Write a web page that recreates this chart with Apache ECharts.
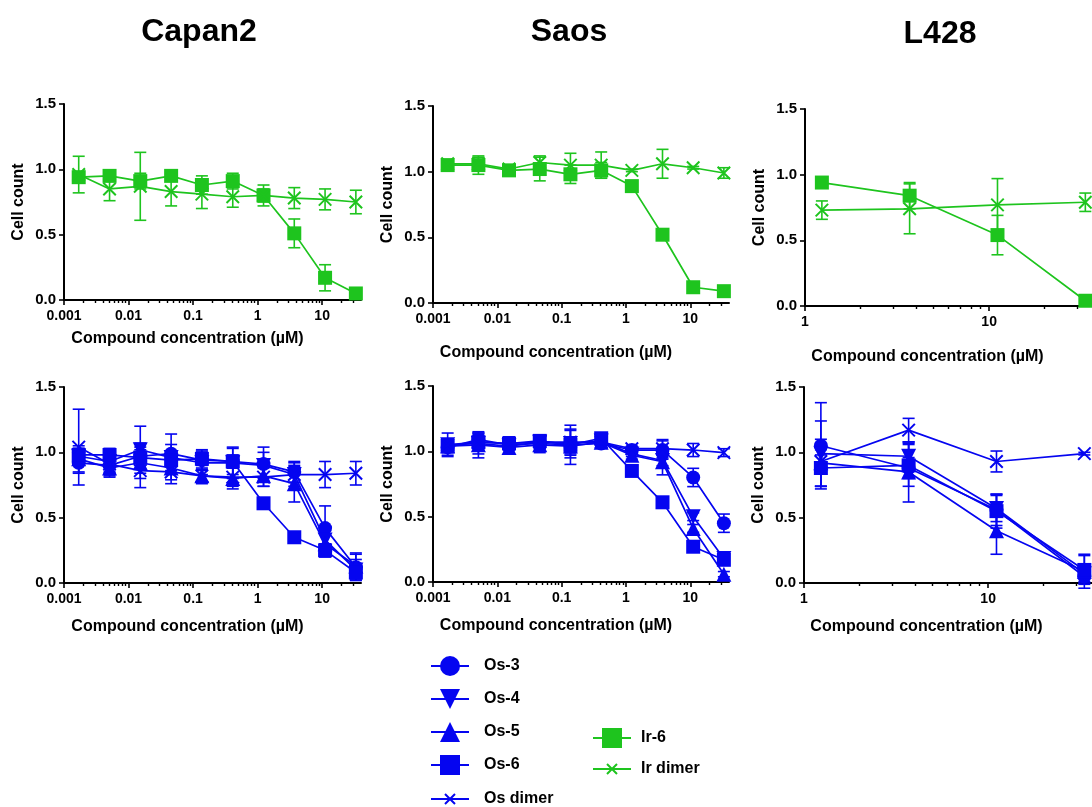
<!DOCTYPE html>
<html>
<head>
<meta charset="utf-8">
<script src="https://cdn.jsdelivr.net/npm/echarts@6/dist/echarts.min.js"></script>
<style>
    html, body { margin: 0; padding: 0; background: #fff; }
    #chart { width: 1092px; height: 807px; }
</style>
</head>
<body>
<div id="chart"></div>
<script>
// concentrations (uM), 3-fold dilution series
const conc = [0.00169, 0.00508, 0.0152, 0.0457, 0.137, 0.412, 1.235, 3.70, 11.1, 33.3];
const concL428 = [1.235, 3.70, 11.1, 33.3];

// tick labels
const wideTicks = [0.001, 0.01, 0.1, 1, 10];
const l428Ticks = [1, 10];
const minorSteps = [2, 3, 4, 5, 6, 7, 8, 9];
const yTicks = [0, 0.5, 1.0, 1.5];

// Capan2, Ir compounds
const capanIr6 = [0.94, 0.95, 0.91, 0.95, 0.88, 0.91, 0.80, 0.51, 0.17, 0.05];
const capanIr6Sd = [0.04, 0.03, 0.06, 0.03, 0.07, 0.06, 0.05, 0.11, 0.10, 0.02];
const capanIrDimer = [0.96, 0.85, 0.87, 0.83, 0.81, 0.79, 0.80, 0.78, 0.77, 0.75];
const capanIrDimerSd = [0.14, 0.09, 0.26, 0.11, 0.11, 0.08, 0.08, 0.08, 0.08, 0.09];

// Saos, Ir compounds
const saosIr6 = [1.05, 1.05, 1.01, 1.02, 0.98, 1.01, 0.89, 0.52, 0.12, 0.09];
const saosIr6Sd = [0.02, 0.07, 0.02, 0.09, 0.07, 0.06, 0.01, 0.01, 0.01, 0.01];
const saosIrDimer = [1.06, 1.06, 1.02, 1.07, 1.05, 1.05, 1.01, 1.06, 1.03, 0.99];
const saosIrDimerSd = [0.02, 0.05, 0.03, 0.05, 0.09, 0.10, 0.01, 0.11, 0.01, 0.04];

// L428, Ir compounds
const l428Ir6 = [0.94, 0.84, 0.54, 0.04];
const l428Ir6Sd = [0.01, 0.10, 0.15, 0.02];
const l428IrDimer = [0.73, 0.74, 0.77, 0.79];
const l428IrDimerSd = [0.07, 0.19, 0.20, 0.07];

// Capan2, Os compounds
const capanOs3 = [0.92, 0.90, 0.97, 0.99, 0.94, 0.93, 0.91, 0.85, 0.42, 0.12];
const capanOs3Sd = [0.08, 0.06, 0.10, 0.15, 0.08, 0.10, 0.13, 0.08, 0.17, 0.10];
const capanOs4 = [0.97, 0.93, 1.02, 0.96, 0.92, 0.92, 0.90, 0.83, 0.33, 0.10];
const capanOs4Sd = [0.06, 0.08, 0.18, 0.10, 0.09, 0.12, 0.10, 0.06, 0.10, 0.08];
const capanOs5 = [0.95, 0.88, 0.92, 0.88, 0.82, 0.80, 0.82, 0.76, 0.30, 0.13];
const capanOs5Sd = [0.10, 0.07, 0.12, 0.09, 0.05, 0.08, 0.08, 0.14, 0.10, 0.10];
const capanOs6 = [0.98, 0.98, 0.96, 0.94, 0.95, 0.93, 0.61, 0.35, 0.25, 0.08];
const capanOs6Sd = [0.05, 0.05, 0.06, 0.04, 0.05, 0.05, 0.02, 0.02, 0.05, 0.04];
const capanOsDimer = [1.04, 0.91, 0.86, 0.85, 0.82, 0.81, 0.81, 0.83, 0.83, 0.84];
const capanOsDimerSd = [0.29, 0.09, 0.13, 0.09, 0.06, 0.07, 0.07, 0.09, 0.10, 0.09];

// Saos, Os compounds
const saosOs3 = [1.03, 1.09, 1.05, 1.06, 1.05, 1.06, 1.01, 1.01, 0.80, 0.45];
const saosOs3Sd = [0.06, 0.05, 0.06, 0.04, 0.15, 0.03, 0.02, 0.07, 0.07, 0.07];
const saosOs4 = [1.05, 1.06, 1.04, 1.07, 1.06, 1.08, 0.98, 0.93, 0.50, 0.18];
const saosOs4Sd = [0.09, 0.08, 0.05, 0.03, 0.11, 0.03, 0.02, 0.04, 0.03, 0.02];
const saosOs5 = [1.04, 1.05, 1.03, 1.05, 1.04, 1.07, 0.97, 0.92, 0.41, 0.06];
const saosOs5Sd = [0.05, 0.10, 0.04, 0.06, 0.07, 0.04, 0.03, 0.10, 0.03, 0.02];
const saosOs6 = [1.04, 1.07, 1.06, 1.08, 1.05, 1.10, 0.85, 0.61, 0.27, 0.17];
const saosOs6Sd = [0.04, 0.04, 0.05, 0.04, 0.04, 0.03, 0.02, 0.01, 0.01, 0.02];
const saosOsDimer = [1.05, 1.07, 1.06, 1.07, 1.07, 1.07, 1.02, 1.02, 1.01, 0.99];
const saosOsDimerSd = [0.04, 0.06, 0.04, 0.03, 0.09, 0.03, 0.02, 0.07, 0.05, 0.03];

// L428, Os compounds
const l428Os3 = [1.05, 0.88, 0.56, 0.05];
const l428Os3Sd = [0.33, 0.08, 0.12, 0.05];
const l428Os4 = [0.99, 0.97, 0.57, 0.07];
const l428Os4Sd = [0.25, 0.10, 0.10, 0.06];
const l428Os5 = [0.92, 0.85, 0.40, 0.09];
const l428Os5Sd = [0.18, 0.23, 0.18, 0.13];
const l428Os6 = [0.88, 0.90, 0.55, 0.10];
const l428Os6Sd = [0.14, 0.16, 0.13, 0.11];
const l428OsDimer = [0.93, 1.17, 0.93, 0.99];
const l428OsDimerSd = [0.05, 0.09, 0.08, 0.01];

const BLUE = '#0505f0';
const GREEN = '#1ec41e';
const FONT = '"Liberation Sans", Arial, sans-serif';
// X with empty margin so it draws at half the box
const xPath = 'path://M-5,-5M15,15M0,0L10,10M10,0L0,10';

const styles = {
    'Ir-6': { color: GREEN, symbol: 'rect', size: 14, rotate: 0 },
    'Ir dimer': { color: GREEN, symbol: xPath, size: 25, rotate: 0 },
    'Os-3': { color: BLUE, symbol: 'circle', size: 14, rotate: 0 },
    'Os-4': { color: BLUE, symbol: 'triangle', size: 15, rotate: 180 },
    'Os-5': { color: BLUE, symbol: 'triangle', size: 15, rotate: 0 },
    'Os-6': { color: BLUE, symbol: 'rect', size: 14, rotate: 0 },
    'Os dimer': { color: BLUE, symbol: xPath, size: 25, rotate: 0 }
};

const panels = [
    { grid: { left: 64, top: 104, width: 297, height: 196 }, conc: conc, range: [0.001, 40], ticks: wideTicks, nameGap: 31,
      lines: [['Ir-6', capanIr6, capanIr6Sd], ['Ir dimer', capanIrDimer, capanIrDimerSd]] },
    { grid: { left: 433, top: 106, width: 296, height: 197 }, conc: conc, range: [0.001, 40], ticks: wideTicks, nameGap: 42,
      lines: [['Ir-6', saosIr6, saosIr6Sd], ['Ir dimer', saosIrDimer, saosIrDimerSd]] },
    { grid: { left: 805, top: 109, width: 295, height: 197 }, conc: concL428, range: [1, 40], ticks: l428Ticks, nameGap: 43,
      lines: [['Ir-6', l428Ir6, l428Ir6Sd], ['Ir dimer', l428IrDimer, l428IrDimerSd]] },
    { grid: { left: 64, top: 387, width: 297, height: 196 }, conc: conc, range: [0.001, 40], ticks: wideTicks, nameGap: 36,
      lines: [['Os-3', capanOs3, capanOs3Sd], ['Os-4', capanOs4, capanOs4Sd], ['Os-5', capanOs5, capanOs5Sd],
              ['Os-6', capanOs6, capanOs6Sd], ['Os dimer', capanOsDimer, capanOsDimerSd]] },
    { grid: { left: 433, top: 386, width: 296, height: 196 }, conc: conc, range: [0.001, 40], ticks: wideTicks, nameGap: 36,
      lines: [['Os-3', saosOs3, saosOs3Sd], ['Os-4', saosOs4, saosOs4Sd], ['Os-5', saosOs5, saosOs5Sd],
              ['Os-6', saosOs6, saosOs6Sd], ['Os dimer', saosOsDimer, saosOsDimerSd]] },
    { grid: { left: 804, top: 387, width: 295, height: 196 }, conc: concL428, range: [1, 40], ticks: l428Ticks, nameGap: 36,
      lines: [['Os-3', l428Os3, l428Os3Sd], ['Os-4', l428Os4, l428Os4Sd], ['Os-5', l428Os5, l428Os5Sd],
              ['Os-6', l428Os6, l428Os6Sd], ['Os dimer', l428OsDimer, l428OsDimerSd]] }
];

function minorTicks(range) {
    const out = [];
    for (let e = Math.floor(Math.log10(range[0])); e <= Math.ceil(Math.log10(range[1])); e++) {
        minorSteps.forEach(k => {
            const v = k * Math.pow(10, e);
            if (v > range[0] && v < range[1]) out.push(Math.log10(v));
        });
    }
    return out;
}

function fmtConc(v) {
    const n = Math.pow(10, v);
    return n >= 1 ? String(Math.round(n)) : n.toFixed(Math.round(-v));
}

function renderErr(params, api) {
    const x = api.value(0);
    const pLo = api.coord([x, api.value(1)]);
    const pHi = api.coord([x, api.value(2)]);
    const w = 6;
    const style = { stroke: api.visual('color'), lineWidth: 1.6 };
    return {
        type: 'group',
        children: [
            { type: 'line', shape: { x1: pLo[0], y1: pLo[1], x2: pHi[0], y2: pHi[1] }, style },
            { type: 'line', shape: { x1: pLo[0] - w, y1: pLo[1], x2: pLo[0] + w, y2: pLo[1] }, style },
            { type: 'line', shape: { x1: pHi[0] - w, y1: pHi[1], x2: pHi[0] + w, y2: pHi[1] }, style }
        ]
    };
}

const chart = echarts.init(document.getElementById('chart'));
const option = {
    animation: false,
    grid: [],
    xAxis: [],
    yAxis: [],
    series: [],
    legend: [
        {
            left: 425, top: 651, height: 240, orient: 'vertical', selectedMode: false,
            itemWidth: 38, itemHeight: 25, itemGap: 13,
            textStyle: { color: '#000', fontFamily: FONT, fontWeight: 'bold', fontSize: 16, padding: [0, 0, 0, 10] },
            data: ['Os-3', 'Os-4', 'Os-5', 'Os-6',
                { name: 'Os dimer', itemStyle: { borderColor: BLUE, borderWidth: 2 } }]
        },
        {
            left: 587, top: 723, height: 100, orient: 'vertical', selectedMode: false,
            itemWidth: 38, itemHeight: 25, itemGap: 10,
            textStyle: { color: '#000', fontFamily: FONT, fontWeight: 'bold', fontSize: 16, padding: [0, 0, 0, 5] },
            data: ['Ir-6', { name: 'Ir dimer', itemStyle: { borderColor: GREEN, borderWidth: 2 } }]
        }
    ],
    graphic: [
        { type: 'text', x: 199, y: 32, style: { text: 'Capan2', font: 'bold 32px ' + FONT, fill: '#000', textAlign: 'center', textVerticalAlign: 'middle' } },
        { type: 'text', x: 569, y: 32, style: { text: 'Saos', font: 'bold 32px ' + FONT, fill: '#000', textAlign: 'center', textVerticalAlign: 'middle' } },
        { type: 'text', x: 940, y: 34, style: { text: 'L428', font: 'bold 32px ' + FONT, fill: '#000', textAlign: 'center', textVerticalAlign: 'middle' } }
    ]
};

panels.forEach((p, g) => {
    option.grid.push(Object.assign({ outerBoundsMode: 'none', containLabel: false }, p.grid));
    const lo = Math.log10(p.range[0]);
    const hi = Math.log10(p.range[1]);
    option.xAxis.push({
        type: 'value', gridIndex: g, position: 'bottom', min: lo, max: hi,
        name: 'Compound concentration (\u00b5M)', nameLocation: 'middle', nameGap: p.nameGap,
        nameTextStyle: { color: '#000', fontFamily: FONT, fontWeight: 'bold', fontSize: 16, padding: [0, 50, 0, 0] },
        axisLine: { onZero: false, lineStyle: { color: '#000', width: 2 } },
        axisTick: { length: 5, lineStyle: { color: '#000', width: 1.6 }, customValues: p.ticks.map(t => Math.log10(t)) },
        axisLabel: { color: '#000', fontFamily: FONT, fontWeight: 'bold', fontSize: 14, margin: 9,
            customValues: p.ticks.map(t => Math.log10(t)), formatter: fmtConc },
        splitLine: { show: false }
    });
    option.xAxis.push({
        type: 'value', gridIndex: g, position: 'bottom', min: lo, max: hi,
        axisLine: { show: false, onZero: false },
        axisTick: { length: 3, lineStyle: { color: '#000', width: 1.4 }, customValues: minorTicks(p.range) },
        axisLabel: { show: false },
        splitLine: { show: false }
    });
    option.yAxis.push({
        type: 'value', gridIndex: g, min: 0, max: 1.5,
        name: 'Cell count', nameLocation: 'middle', nameGap: 37,
        nameTextStyle: { color: '#000', fontFamily: FONT, fontWeight: 'bold', fontSize: 16 },
        axisLine: { show: true, onZero: false, lineStyle: { color: '#000', width: 2 } },
        axisTick: { show: true, length: 5, lineStyle: { color: '#000', width: 1.6 }, customValues: yTicks },
        axisLabel: { color: '#000', fontFamily: FONT, fontWeight: 'bold', fontSize: 15, margin: 8,
            customValues: yTicks, formatter: v => v.toFixed(1) },
        splitLine: { show: false }
    });
    p.lines.forEach(([name, mean, sd]) => {
        const st = styles[name];
        option.series.push({
            type: 'custom', xAxisIndex: 2 * g, yAxisIndex: g,
            renderItem: renderErr, encode: { x: 0, y: [1, 2] },
            itemStyle: { color: st.color }, z: 2, silent: true,
            data: p.conc.map((c, i) => [Math.log10(c), mean[i] - sd[i], mean[i] + sd[i]])
        });
        option.series.push({
            type: 'line', name: name, xAxisIndex: 2 * g, yAxisIndex: g,
            symbol: st.symbol, symbolSize: st.size, symbolRotate: st.rotate, showAllSymbol: true,
            itemStyle: { color: st.color, borderColor: st.color, borderWidth: st.symbol === xPath ? 2 : 0 },
            lineStyle: { color: st.color, width: 1.7 },
            z: 3, silent: true,
            data: p.conc.map((c, i) => [Math.log10(c), mean[i]])
        });
    });
});

chart.setOption(option);
</script>
</body>
</html>
